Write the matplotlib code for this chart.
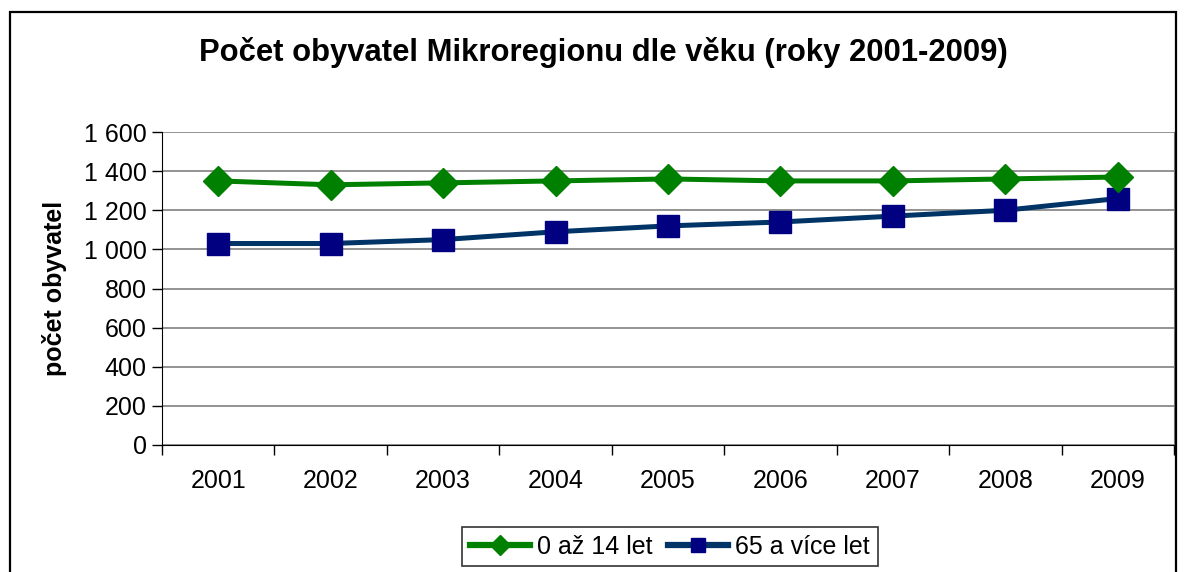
import numpy as np
import matplotlib
matplotlib.use("Agg")
import matplotlib.pyplot as plt
from matplotlib.patches import Rectangle
from matplotlib.ticker import FuncFormatter, FixedLocator

plt.rcParams['font.family'] = ['Liberation Sans', 'DejaVu Sans']

years = ["2001", "2002", "2003", "2004", "2005", "2006", "2007", "2008", "2009"]
kids = [1350, 1330, 1340, 1350, 1360, 1350, 1350, 1360, 1370]
seniors = [1030, 1030, 1050, 1090, 1120, 1140, 1170, 1200, 1260]
labels = ["0 až 14 let", "65 a více let"]

fig = plt.figure(figsize=(11.86, 5.72), dpi=100)
ax = fig.add_axes([162 / 1186, 1 - 445 / 572, (1174 - 162) / 1186, (445 - 132) / 572])

# outer chart frame
fig.patches.append(Rectangle((10 / 1186, -0.05), (1176 - 10) / 1186, 1.05 - 12 / 572,
                             transform=fig.transFigure, fill=False,
                             edgecolor='black', linewidth=1.6))

x = np.arange(len(years))
ax.plot(x, kids, color='#008000', lw=3.6, marker='D', ms=15,
        mfc='#008000', mec='#008000', label=labels[0], zorder=4)
ax.plot(x, seniors, color='#003366', lw=3.6, marker='s', ms=16,
        mfc='#000080', mec='#000080', label=labels[1], zorder=3)

ax.set_xlim(-0.5, len(years) - 0.5)
ax.set_ylim(0, 1600)
ax.set_yticks(np.arange(0, 1601, 200))
ax.yaxis.set_major_formatter(FuncFormatter(lambda v, p: f"{int(v):,}".replace(",", " ")))
ax.grid(axis='y', color='#808080', lw=1.2)
ax.set_axisbelow(True)

ax.xaxis.set_major_locator(FixedLocator(np.arange(-0.5, len(years), 1)))
ax.xaxis.set_major_formatter(FuncFormatter(lambda v, p: ""))
ax.xaxis.set_minor_locator(FixedLocator(x))
ax.set_xticklabels(years, minor=True)
ax.tick_params(axis='x', which='minor', length=0, pad=17, labelsize=18)
ax.tick_params(axis='x', which='major', length=7, width=1, direction='out')
ax.tick_params(axis='y', length=7, width=1, labelsize=18, pad=4)

ax.spines['top'].set_visible(False)
ax.spines['right'].set_color('#808080')
ax.spines['left'].set_color('black')
ax.spines['bottom'].set_color('black')

ax.set_ylabel("počet obyvatel", fontsize=18, fontweight='bold', labelpad=12)
fig.text(603 / 1186, 1 - 52 / 572, "Počet obyvatel Mikroregionu dle věku (roky 2001-2009)",
         ha='center', va='center', fontsize=22.3, fontweight='bold')

leg = fig.legend(loc='upper center', bbox_to_anchor=(670 / 1186, 1 - 527 / 572),
                 ncol=2, fontsize=18, frameon=True, fancybox=False,
                 handlelength=2.4, columnspacing=0.6, handletextpad=0.3,
                 borderpad=0.3, borderaxespad=0, markerscale=0.65)
leg.get_frame().set_edgecolor('black')
leg.get_frame().set_linewidth(1.2)
for h in leg.legend_handles:
    h.set_linewidth(4.5)

fig.savefig("out.png", dpi=100)
